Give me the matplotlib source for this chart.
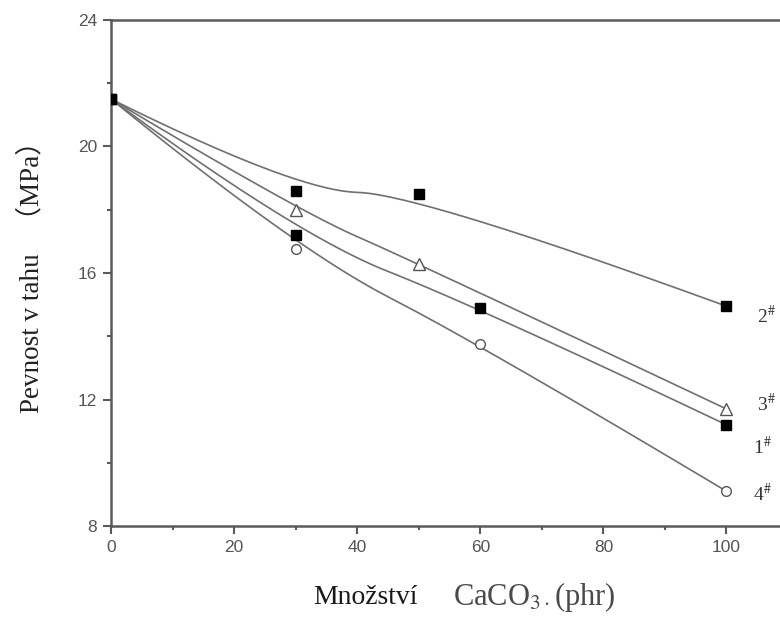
import numpy as np
import matplotlib.pyplot as plt

plt.rcParams['mathtext.fontset'] = 'stix'

# tensile strength vs. CaCO3 loading for four compounds
x1 = [0, 30, 60, 100]
y1 = [21.5, 17.2, 14.9, 11.2]
x2 = [0, 30, 50, 100]
y2 = [21.5, 18.6, 18.5, 14.95]
x3 = [0, 30, 50, 100]
y3 = [21.5, 18.0, 16.3, 11.7]
x4 = [0, 30, 60, 100]
y4 = [21.5, 16.75, 13.75, 9.1]
names = ['1$^{\\#}$', '2$^{\\#}$', '3$^{\\#}$', '4$^{\\#}$']
name_pos = [(104.3, 10.5), (105, 14.65), (105, 11.85), (104.3, 9.0)]


def bspline(xs, ys, n=80):
    # clamped quadratic B-spline, data points used as control points
    p = np.column_stack([xs, ys]).astype(float)
    k = len(p)
    mids = (p[:-1] + p[1:]) / 2
    u = np.linspace(0, 1, n)[:, None]
    out = []
    for j in range(k - 2):
        a = p[0] if j == 0 else mids[j]
        c = p[-1] if j == k - 3 else mids[j + 1]
        b = p[j + 1]
        out.append((1 - u)**2 * a + 2 * u * (1 - u) * b + u**2 * c)
    out = np.vstack(out)
    return out[:, 0], out[:, 1]


fig = plt.figure(figsize=(7.8, 6.24), dpi=100)
ax = fig.add_axes([0.1423, 0.157, 0.868, 0.811])

lc = '#707070'
for xs, ys in [(x1, y1), (x2, y2), (x3, y3), (x4, y4)]:
    cx, cy = bspline(xs, ys)
    ax.plot(cx, cy, color=lc, lw=1.2, zorder=2)

ax.plot(x1, y1, 's', color='black', ms=7.5, zorder=3)
ax.plot(x2, y2, 's', color='black', ms=7.5, zorder=3)
ax.plot(x3[1:], y3[1:], '^', mfc='white', mec='#555555', ms=8, mew=1.0, zorder=3)
ax.plot(x4[1:], y4[1:], 'o', mfc='white', mec='#555555', ms=7, mew=1.0, zorder=3)

for nm, (px, py) in zip(names, name_pos):
    ax.text(px, py, nm, family='Liberation Serif', fontsize=14, color='#333333',
            va='center', ha='left')

ax.set_xlim(0, 110)
ax.set_ylim(8, 24)
ax.set_xticks([0, 20, 40, 60, 80, 100])
ax.set_xticks([10, 30, 50, 70, 90], minor=True)
ax.set_yticks([8, 12, 16, 20, 24])
ax.set_yticks([10, 14, 18, 22], minor=True)

sc = '#5a5a5a'
for s in ax.spines.values():
    s.set_color(sc)
    s.set_linewidth(1.8)
ax.tick_params(which='major', direction='out', length=6, width=1.5, color=sc,
               labelsize=12.5, labelcolor='#555555', pad=4)
ax.tick_params(which='minor', direction='out', length=3, width=1.5, color=sc)
for lab in ax.get_xticklabels() + ax.get_yticklabels():
    lab.set_family('Liberation Sans')

# axis titles
fig.text(32 / 780, 1 - 270 / 624, 'Pevnost v tahu   （MPa）', rotation=90,
         family=['Liberation Serif', 'Noto Sans CJK SC'], fontsize=19.5,
         color='#222222', ha='center', va='center')
fig.text(313 / 780, 1 - 597 / 624, 'Množství', family='Liberation Serif',
         fontsize=20, color='#1a1a1a', ha='left', va='center')
fig.text(453 / 780, 1 - 597 / 624, 'CaCO$_{3\\cdot}$(phr)', family='Liberation Serif',
         fontsize=22, color='#4a4a4a', ha='left', va='center')

fig.savefig('out.png', dpi=100)
